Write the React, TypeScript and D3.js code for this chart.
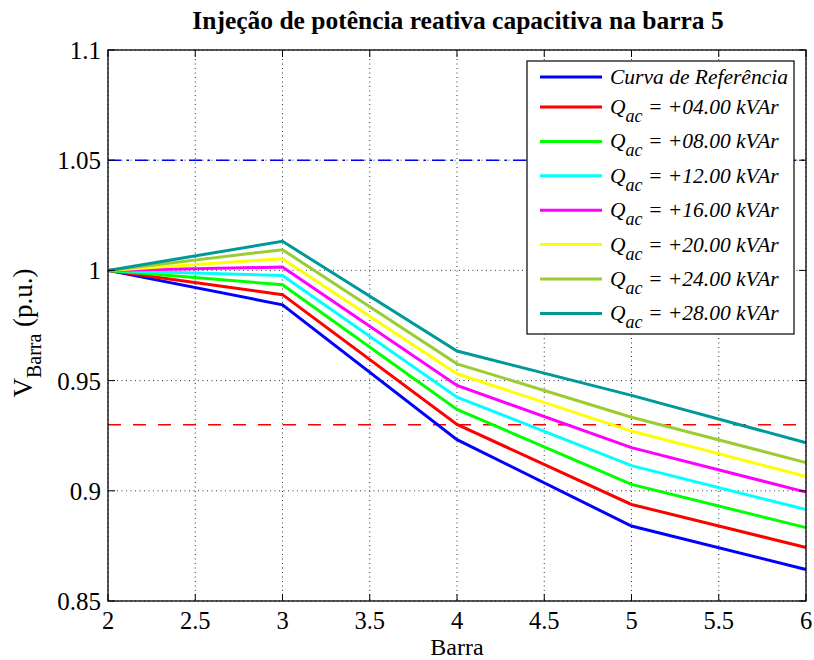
import React from "react";
import * as d3 from "d3";

const barras = [2, 3, 4, 5, 6];
const serRef = [1.0, 0.9844, 0.9232, 0.8840, 0.8643];
const serQ04 = [1.0, 0.9890, 0.9301, 0.8938, 0.8743];
const serQ08 = [1.0, 0.9935, 0.9369, 0.9029, 0.8833];
const serQ12 = [1.0, 0.9977, 0.9425, 0.9114, 0.8915];
const serQ16 = [1.0, 1.0015, 0.9478, 0.9196, 0.8994];
const serQ20 = [1.0, 1.0053, 0.9531, 0.9271, 0.9065];
const serQ24 = [1.0, 1.0094, 0.9576, 0.9334, 0.9128];
const serQ28 = [1.0, 1.0132, 0.9634, 0.9433, 0.9218];
const seriesLabels = ["Curva de Referência", "+04.00", "+08.00", "+12.00", "+16.00", "+20.00", "+24.00", "+28.00"];
const seriesColors = ["#0000ff", "#ff0000", "#00ff00", "#00ffff", "#ff00ff", "#ffff00", "#9acd32", "#009999"];
const xTicks = [2, 2.5, 3, 3.5, 4, 4.5, 5, 5.5, 6];
const yTicks = [0.85, 0.9, 0.95, 1.0, 1.05, 1.1];
const yTickLabels = ["0.85", "0.9", "0.95", "1", "1.05", "1.1"];
const limSup = 1.05;
const limInf = 0.93;

const W = 814, H = 660;
const L = 108, R = 806, T = 50, B = 601;
const FONT = "'Liberation Serif', 'Times New Roman', Times, serif";

export default function App() {
  const x = d3.scaleLinear().domain([2, 6]).range([L, R]);
  const y = d3.scaleLinear().domain([0.85, 1.1]).range([B, T]);
  const all = [serRef, serQ04, serQ08, serQ12, serQ16, serQ20, serQ24, serQ28];
  const line = d3.line<number>().x((_, i) => x(barras[i])).y((d) => y(d));
  const lgX = 527, lgY = 61, lgW = 267, lgH = 273;
  return (
    <svg width={W} height={H} style={{ position: "absolute", left: 0, top: 0, background: "#fff" }} fontFamily={FONT}>
      <rect x={0} y={0} width={W} height={H} fill="#fff" />
      <text x={458} y={29} textAnchor="middle" fontWeight="bold" fontSize={25.5} fontFamily={FONT}>
        Injeção de potência reativa capacitiva na barra 5
      </text>
      {/* grid */}
      {xTicks.map((t) => (
        <line key={"gx" + t} x1={x(t)} x2={x(t)} y1={T} y2={B} stroke="#333" strokeWidth={1} strokeDasharray="1,3.5" />
      ))}
      {yTicks.map((t) => (
        <line key={"gy" + t} x1={L} x2={R} y1={y(t)} y2={y(t)} stroke="#333" strokeWidth={1} strokeDasharray="1,3.5" />
      ))}
      {/* limit lines */}
      <line x1={L} x2={R} y1={y(limSup)} y2={y(limSup)} stroke="#0000ff" strokeWidth={1.5} strokeDasharray="13,6,2,6" />
      <line x1={L} x2={R} y1={y(limInf)} y2={y(limInf)} stroke="#ff0000" strokeWidth={1.5} strokeDasharray="13,12" />
      {/* series */}
      {all.map((s, i) => (
        <path key={"s" + i} d={line(s) || ""} fill="none" stroke={seriesColors[i]} strokeWidth={3} strokeLinejoin="miter" />
      ))}
      {/* axes box */}
      <rect x={L} y={T} width={R - L} height={B - T} fill="none" stroke="#000" strokeWidth={1.3} />
      {xTicks.map((t) => (
        <g key={"tx" + t}>
          <line x1={x(t)} x2={x(t)} y1={B} y2={B - 7} stroke="#000" />
          <line x1={x(t)} x2={x(t)} y1={T} y2={T + 7} stroke="#000" />
          <text x={x(t)} y={628.5} textAnchor="middle" fontSize={24.5} fontFamily={FONT}>{String(t)}</text>
        </g>
      ))}
      {yTicks.map((t, i) => (
        <g key={"ty" + t}>
          <line x1={L} x2={L + 7} y1={y(t)} y2={y(t)} stroke="#000" />
          <line x1={R} x2={R - 7} y1={y(t)} y2={y(t)} stroke="#000" />
          <text x={101} y={y(t) + 9} textAnchor="end" fontSize={25} fontFamily={FONT}>{yTickLabels[i]}</text>
        </g>
      ))}
      <text x={457} y={654.5} textAnchor="middle" fontSize={24} fontFamily={FONT}>Barra</text>
      <text transform={`translate(32, 333) rotate(-90)`} textAnchor="middle" fontSize={27} fontFamily={FONT}>
        V<tspan fontSize={20} dy={9}>Barra</tspan><tspan dy={-9}> (p.u.)</tspan>
      </text>
      {/* legend */}
      <rect x={lgX} y={lgY} width={lgW} height={lgH} fill="#fff" stroke="#000" strokeWidth={1.2} />
      {seriesLabels.map((lab, i) => {
        const ly = i === 0 ? 77 : 107 + (i - 1) * 34.4;
        return (
          <g key={"lg" + i}>
            <line x1={540} x2={602} y1={ly} y2={ly} stroke={seriesColors[i]} strokeWidth={3} />
            {i === 0 ? (
              <text x={610} y={ly + 7} fontSize={21.5} fontStyle="italic" fontFamily={FONT}>{lab}</text>
            ) : (
              <text x={610} y={ly + 7} fontSize={21.5} fontStyle="italic" fontFamily={FONT}>
                Q<tspan fontSize={18} dy={8}>ac</tspan>
                <tspan dy={-8}> = {lab} kVAr</tspan>
              </text>
            )}
          </g>
        );
      })}
    </svg>
  );
}
